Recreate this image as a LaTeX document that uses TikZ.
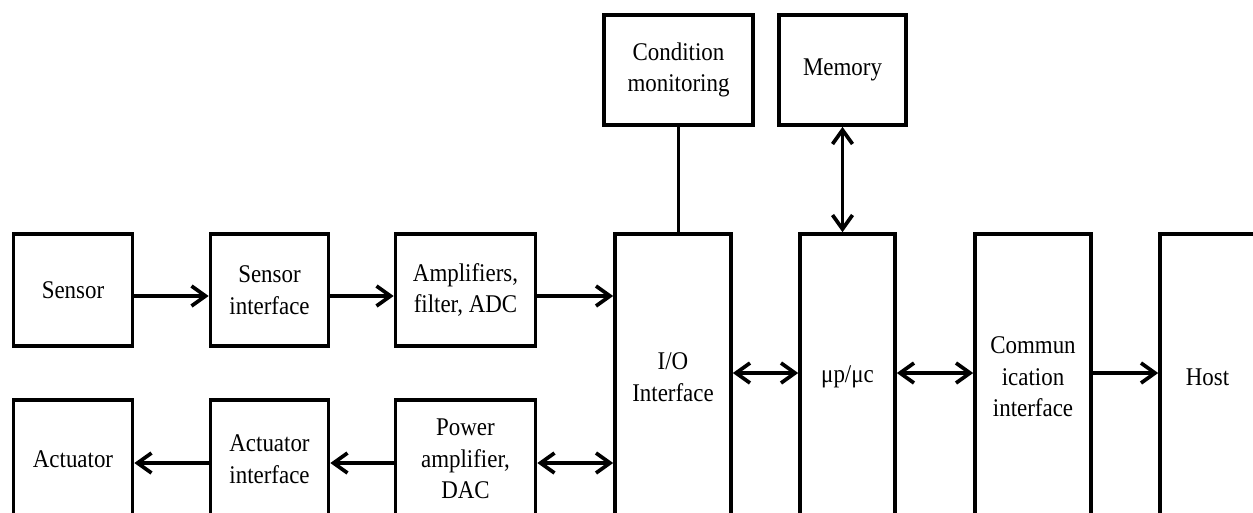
\documentclass[tikz,border=0pt]{standalone}
\usepackage{fontspec}
\setmainfont{Liberation Serif}[FakeStretch=0.9]
\usetikzlibrary{arrows.meta, positioning}
\tikzset{
  every picture/.style={line width=2.1pt},
  box/.style={draw, align=center, inner sep=2pt, minimum width=#1, font=\fontsize{14.5}{18}\selectfont},
  row/.style={box=#1, minimum height=2.24cm},
  tall/.style={box=#1, minimum height=5.72cm},
  arrow/.style={-{Straight Barb[length=2.8mm, width=4mm]}, line width=2.1pt},
  both/.style={{Straight Barb[length=2.8mm, width=4mm]}-{Straight Barb[length=2.8mm, width=4mm]}, line width=2.1pt},
}

\begin{document}
\begin{tikzpicture}[x=0.02cm, y=-0.02cm]
  \useasboundingbox (0,0) rectangle (1253,512);
  \clip (0,0) rectangle (1253,512);
  % upper and lower chains
  \node[row=2.38cm] (sensor) at (73,290) {Sensor};
  \node[row=2.36cm] (sensint) at (269.5,290) {Sensor\\interface};
  \node[row=2.8cm] (amp) at (465.5,290) {Amplifiers,\\filter, ADC};
  \node[row=2.38cm, minimum height=2.36cm] (act) at (73,459) {Actuator};
  \node[row=2.36cm, minimum height=2.36cm] (actint) at (269.5,459) {Actuator\\interface};
  \node[row=2.8cm, minimum height=2.36cm] (pamp) at (465.5,459) {Power\\amplifier,\\DAC};
  % tall blocks
  \node[tall=2.32cm] (io) at (673,377) {I/O\\Interface};
  \node[tall=1.9cm] (mup) at (847.5,377) {μp/μc};
  \node[tall=2.32cm] (comm) at (1033,377) {Commun\\ication\\interface};
  \node[tall=1.9cm] (host) at (1207.5,377) {Host};
  % top blocks
  \node[box=2.98cm, minimum height=2.2cm] (cond) at (678.5,70) {Condition\\monitoring};
  \node[box=2.54cm, minimum height=2.2cm] (mem) at (842.5,70) {Memory};

  \draw[arrow] ([yshift=-0.12cm]sensor.east) -- ([yshift=-0.12cm]sensint.west);
  \draw[arrow] ([yshift=-0.12cm]sensint.east) -- ([yshift=-0.12cm]amp.west);
  \draw[arrow] ([yshift=-0.12cm]amp.east) -- ([yshift=-0.12cm]amp.east -| io.west);
  \draw[arrow] ([yshift=-0.08cm]actint.west) -- ([yshift=-0.08cm]act.east);
  \draw[arrow] ([yshift=-0.08cm]pamp.west) -- ([yshift=-0.08cm]actint.east);
  \draw[both] ([yshift=-0.08cm]pamp.east) -- ([yshift=-0.08cm]pamp.east -| io.west);
  \draw[both] ([yshift=0.08cm]io.east) -- ([yshift=0.08cm]mup.west);
  \draw[both] ([yshift=0.08cm]mup.east) -- ([yshift=0.08cm]comm.west);
  \draw[arrow] ([yshift=0.08cm]comm.east) -- ([yshift=0.08cm]host.west);
  \draw (cond.south) -- (cond.south |- io.north);
  \draw[both] (mem.south) -- (mem.south |- mup.north);
\end{tikzpicture}
\end{document}
